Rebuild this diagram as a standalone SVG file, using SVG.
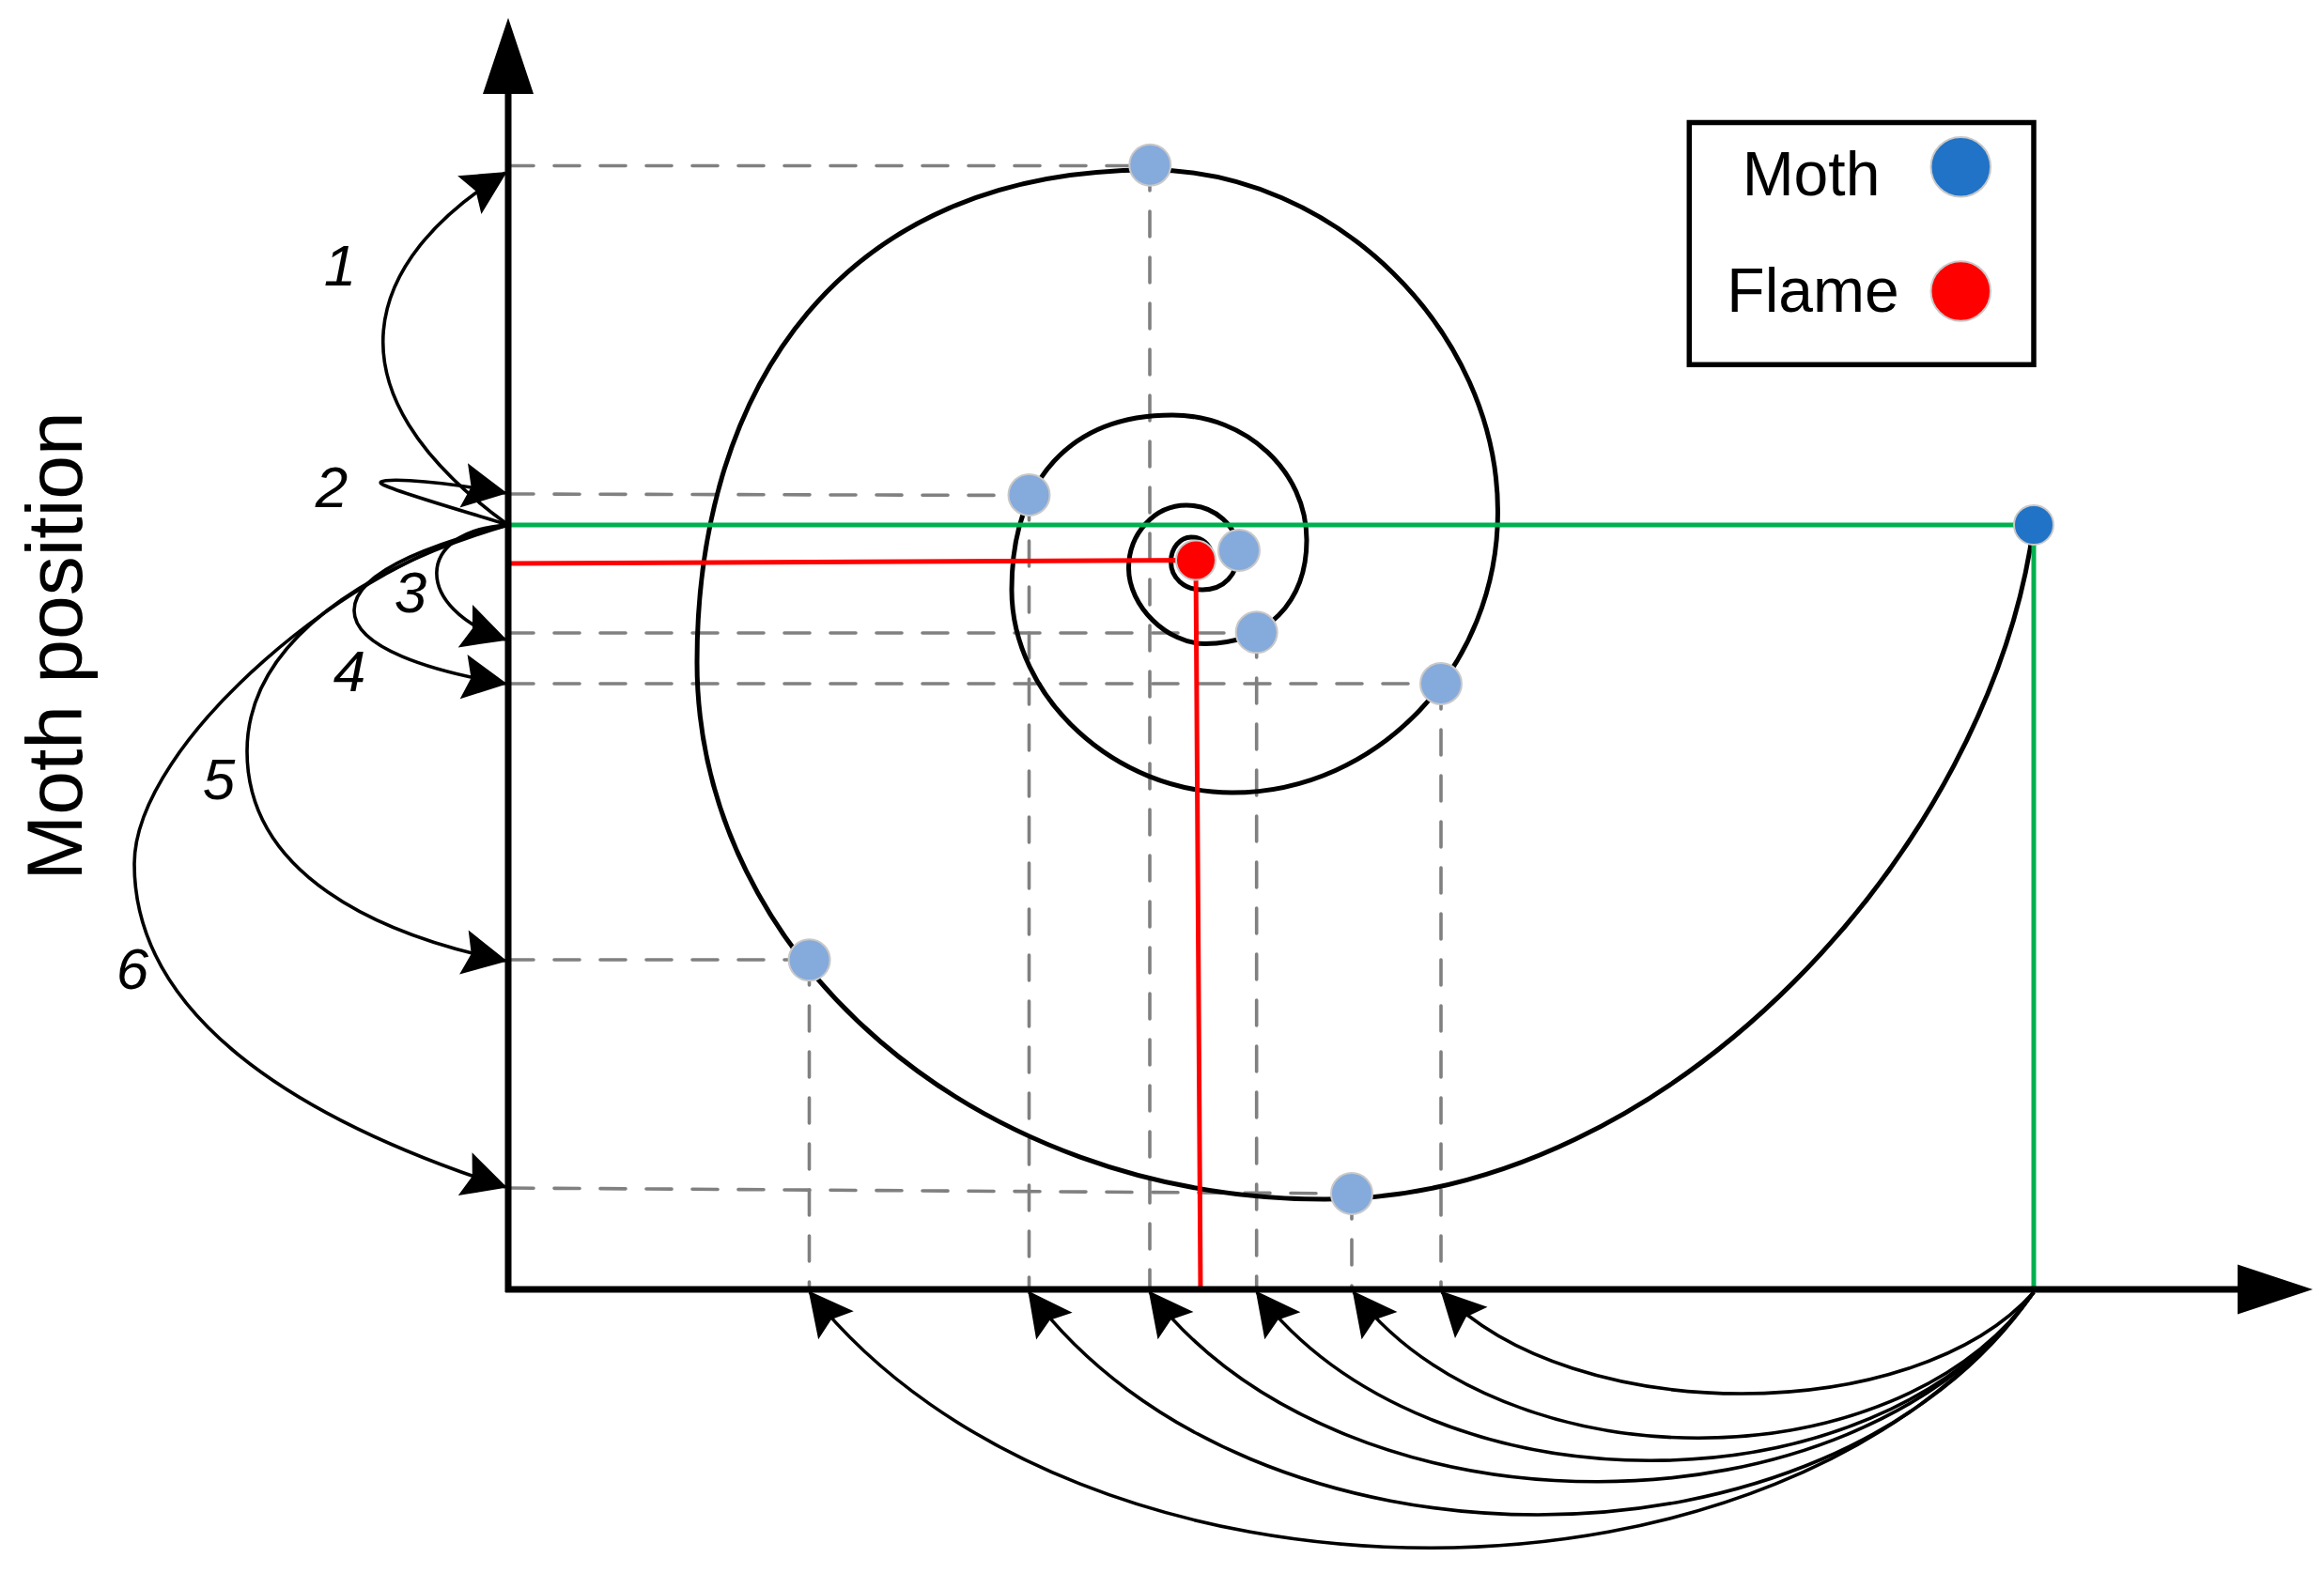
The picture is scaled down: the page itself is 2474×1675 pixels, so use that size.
<svg xmlns="http://www.w3.org/2000/svg" width="2474" height="1675" viewBox="0 0 2474 1675">
<defs>
<style>
.dash{stroke:#808080;stroke-width:3.6;stroke-dasharray:27 22;stroke-linecap:round;fill:none}
.conn{stroke:#000;stroke-width:3.6;fill:none;marker-end:url(#ah)}
.axis{stroke:#000;stroke-width:7;fill:none}
.spiral{stroke:#000;stroke-width:5;fill:none}
.green{stroke:#00B050;stroke-width:5;fill:none}
.red{stroke:#FF0000;stroke-width:5;fill:none}
.pt{fill:#85AADC;stroke:#C8C8C8;stroke-width:2}
.lbl{font-family:"Liberation Sans",Arial,sans-serif;font-style:italic;font-size:62px;fill:#000;text-anchor:middle}
.txt{font-family:"Liberation Sans",Arial,sans-serif;fill:#000;text-anchor:middle}
</style>
<marker id="ah" viewBox="-50 -26 54 52" refX="-2" refY="0" markerWidth="54" markerHeight="52" markerUnits="userSpaceOnUse" orient="auto">
<path d="M0,0 L-47,-24 L-39,0 L-47,24 Z" fill="#000"/>
</marker>
</defs>
<rect width="2474" height="1675" fill="#fff"/>

<g id="guides">
<path class="dash" d="M541,176.5 H1224"/>
<path class="dash" d="M541,526 L1095,527.5"/>
<path class="dash" d="M541,674 H1338"/>
<path class="dash" d="M541,728 H1534"/>
<path class="dash" d="M541,1022 H861"/>
<path class="dash" d="M541,1265 L1439,1271"/>
<path class="dash" d="M861.5,1022 V1373"/>
<path class="dash" d="M1095.5,527 V1373"/>
<path class="dash" d="M1224,176 V1373"/>
<path class="dash" d="M1337.7,673 V1373"/>
<path class="dash" d="M1439,1271 V1373"/>
<path class="dash" d="M1534,728 V1373"/>
</g>

<g id="spiral">
<path class="spiral" d="M2165,559 C2120,900 1780,1277 1410,1277 C1041,1277 742,1021 742,705 C742,411.6 896.2,181 1224,181 C1420.4,181 1594.5,352.1 1594.5,545 C1594.5,709.5 1467.3,844 1311.6,844 C1187.3,844 1077,742.5 1077,628 C1077,510.8 1140.3,442 1248,442 C1326.7,442 1391,501.9 1391,575 C1391,641.3 1347.8,685.5 1283,685.5 C1242.3,685.5 1201.5,645.3 1201.5,605 C1201.5,568.2 1229.2,538 1263,538 C1293.3,538 1318,560.5 1318,588 C1318,612 1302.8,628 1280,628 C1260.6,628 1246.5,615.4 1246.5,598 C1246.5,583.7 1256.2,572 1268,572 C1280,572 1288,580 1290,590"/>
</g>

<g id="best-lines">
<path class="green" d="M541,559 H2165 V1373"/>
<path class="red" d="M541,600 L1273,596.5 L1278,1373"/>
</g>

<g id="axes">
<path class="axis" d="M541,1376 V98"/>
<polygon points="541,19 514,100 568,100" fill="#000"/>
<path class="axis" d="M538,1373 H2384"/>
<polygon points="2462,1373 2382,1346.5 2382,1399.5" fill="#000"/>
</g>

<g id="connectors">
<path class="conn" d="M541,559 C341,414 388,277 538,184"/>
<path class="conn" d="M541,559 C500,546 415,522 406,515 C398,509 450,509 538,525"/>
<path class="conn" d="M541,559 C440,565 440,648 538,681"/>
<path class="conn" d="M541,559 C480,574 377,605 377,650 C377,690 460,715 538,728"/>
<path class="conn" d="M541,559 C397,601 263,680 263,800 C263,930 400,995 538,1023"/>
<path class="conn" d="M541,559 C380,592 143,790 143,920 C143,1070 291,1184 538,1264"/>
<path class="conn" d="M2165,1376 C2037,1520 1674,1520 1535,1376"/>
<path class="conn" d="M2165,1376 C2018,1583 1601,1583 1441,1376"/>
<path class="conn" d="M2165,1376 C1997,1615 1521,1615 1338,1376"/>
<path class="conn" d="M2165,1376 C1974,1645 1432,1645 1224,1376"/>
<path class="conn" d="M2165,1376 C1948,1692 1331,1692 1095.5,1376"/>
<path class="conn" d="M2165,1376 C1900,1739 1150,1739 862,1376"/>
</g>

<g id="step-labels">
<text class="lbl" x="362" y="304">1</text>
<text class="lbl" x="353" y="540">2</text>
<text class="lbl" x="437" y="652">3</text>
<text class="lbl" x="372" y="736">4</text>
<text class="lbl" x="233" y="851">5</text>
<text class="lbl" x="141" y="1053">6</text>
</g>

<g id="y-label">
<text class="txt" font-size="84" transform="translate(87,688) rotate(-90)">Moth position</text>
</g>

<g id="positions">
<circle id="p1" class="pt" cx="1224.3" cy="175.7" r="22"/>
<circle id="p2" class="pt" cx="1095.5" cy="527" r="22"/>
<circle id="p3" class="pt" cx="1319" cy="586" r="22"/>
<circle id="p4" class="pt" cx="1337.7" cy="673.3" r="22"/>
<circle id="p5" class="pt" cx="1534" cy="728" r="22"/>
<circle id="p6" class="pt" cx="861.6" cy="1022.3" r="22"/>
<circle id="p7" class="pt" cx="1439" cy="1271" r="22"/>
<circle id="moth" cx="2165" cy="559" r="21" fill="#2073C6" stroke="#C8C8C8" stroke-width="2"/>
<circle id="flame" cx="1273" cy="596.5" r="21" fill="#FF0000" stroke="#C8C8C8" stroke-width="2"/>
</g>

<g id="legend">
<rect x="1798.3" y="130.5" width="366.7" height="257.8" fill="#fff" stroke="#000" stroke-width="5.5"/>
<text class="txt" x="1928" y="208" font-size="66">Moth</text>
<text class="txt" x="1930" y="332" font-size="66">Flame</text>
<circle cx="2087.3" cy="177.7" r="31.8" fill="#2073C6" stroke="#C8C8C8" stroke-width="2"/>
<circle cx="2087.3" cy="310" r="31.8" fill="#FF0000" stroke="#C8C8C8" stroke-width="2"/>
</g>
</svg>
